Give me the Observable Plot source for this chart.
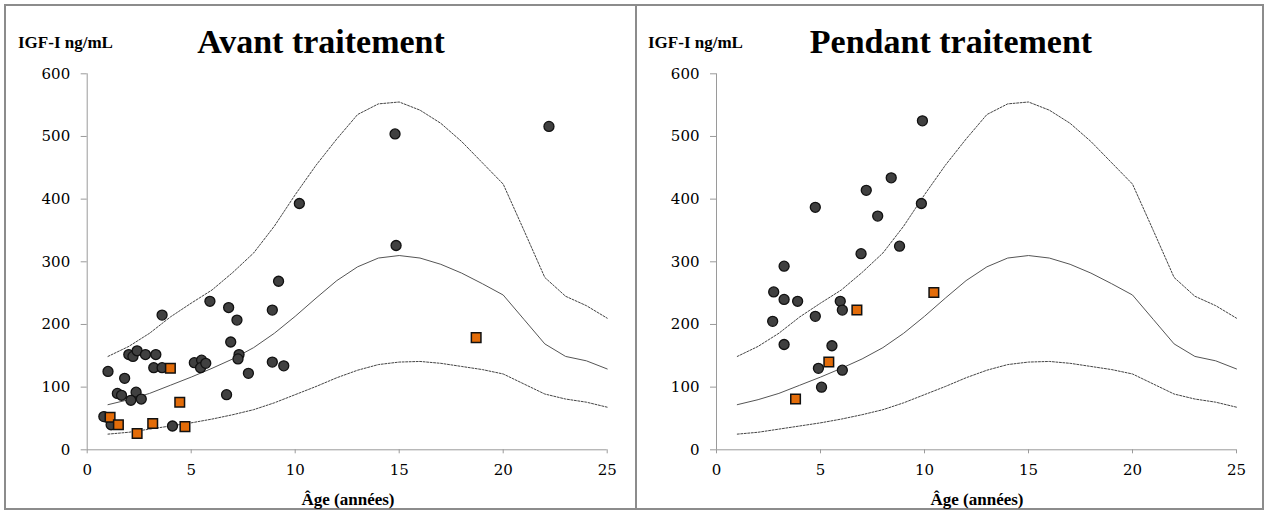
<!DOCTYPE html>
<html><head><meta charset="utf-8">
<script src="https://cdn.jsdelivr.net/npm/d3@7"></script>
<script src="https://cdn.jsdelivr.net/npm/@observablehq/plot@0.6"></script>
<style>
body{margin:0;background:#fff;width:1267px;height:510px;overflow:hidden;position:relative;}
.panel{position:absolute;top:4px;height:506px;box-sizing:border-box;border:2px solid #8c8c8c;background:#fff;}
.chart{position:absolute;top:6px;}
.ylab{position:absolute;top:33px;font:bold 17px "Liberation Serif",serif;color:#000;white-space:nowrap;}
.title{position:absolute;top:23px;font:bold 34px "Liberation Serif",serif;color:#000;white-space:nowrap;transform:translateX(-50%);}
.xlab{position:absolute;top:490px;font:bold 17px "Liberation Serif",serif;color:#000;white-space:nowrap;transform:translateX(-50%);}
</style></head>
<body>
<div class="panel" style="left:4px;width:633px;"></div>
<div class="panel" style="left:635px;width:629px;"></div>
<div id="c1" class="chart" style="left:6px"></div>
<div id="c2" class="chart" style="left:637px"></div>
<div class="ylab" style="left:18px">IGF-I ng/mL</div>
<div class="ylab" style="left:648px">IGF-I ng/mL</div>
<div class="title" style="left:321px">Avant traitement</div>
<div class="title" style="left:951px">Pendant traitement</div>
<div class="xlab" style="left:348px">Âge (années)</div>
<div class="xlab" style="left:977px">Âge (années)</div>
<script>
// Reference curves (age in years)
const refAges   = [1,2,3,4,5,6,7,8,9,10,11,12,13,14,15,16,17,18,19,20,21,22,23,24,25];
const refUpper  = [149,165,186,212,234,255,283,314,357,407,454,496,535,552,555,542,521,492,458,424,350,275,245,230,210];
const refMedian = [72,80,90,103,116,130,145,163,186,213,242,270,292,306,310,306,296,282,265,247,208,169,149,142,129];
const refLower  = [25,28,33,38,43,49,56,64,75,88,101,115,127,136,140,141,138,133,128,121,105,89,81,76,68];

// Avant traitement
const avantCircleAge = [3.6,5.9,6.8,7.2,8.9,9.2,6.9,2.0,2.2,2.4,2.8,3.3,3.2,3.6,1.0,1.8,1.45,1.65,2.35,2.1,2.6,0.8,1.15,4.1,5.15,5.5,5.45,5.7,7.3,7.25,7.75,6.7,8.9,9.45,10.2,14.8,14.85,22.2];
const avantCircleVal = [215,237,227,207,223,269,172,152,149,158,152,152,131,131,125,114,90,87,92,79,81,53,40,38,139,143,131,138,152,145,122,88,140,134,393,504,326,516];
const avantSquareAge = [1.1,1.5,2.4,3.15,4.0,4.45,4.7,18.7];
const avantSquareVal = [52,40,26,42,130,76,37,179];

// Pendant traitement
const pendantCircleAge = [9.9,8.4,7.2,4.75,7.75,9.85,8.8,6.95,3.25,2.75,3.25,3.9,5.95,6.05,4.75,2.7,3.25,5.55,4.9,6.05,5.05];
const pendantCircleVal = [525,434,414,387,373,393,325,313,293,252,240,237,237,223,213,205,168,166,130,127,100];
const pendantSquareAge = [10.45,6.75,5.4,3.8];
const pendantSquareVal = [251,223,140,81];

const xTicks = [0,5,10,15,20,25];
const yTicks = [0,100,200,300,400,500,600];

const refTable = refAges.map((a,i)=>({age:a, upper:refUpper[i], median:refMedian[i], lower:refLower[i]}));
const toPts = (ages, vals) => ages.map((a,i)=>({age:a, val:vals[i]}));

function panel(circles, squares, mL, mR) {
  return Plot.plot({
    width: mL + 520 + mR, height: 502,
    marginLeft: mL, marginRight: mR, marginTop: 67.3, marginBottom: 58.7,
    style: {fontFamily: "DejaVu Serif", fontSize: "15px", color: "#000", background: "transparent", overflow: "visible"},
    x: {domain: [0,25], ticks: xTicks},
    y: {domain: [0,600], ticks: yTicks},
    marks: [
      Plot.ruleY([0], {x1: 0, x2: 25, stroke: "#9a9a9a"}),
      Plot.ruleX([0], {y1: 0, y2: 600, stroke: "#9a9a9a"}),
      Plot.axisX({ticks: xTicks, tickSize: 4, tickPadding: 11, stroke: "#9a9a9a", fill: "#000", label: null, tickFormat: d => d}),
      Plot.axisY({ticks: yTicks, tickSize: 6, tickPadding: 11, stroke: "#9a9a9a", fill: "#000", label: null, tickFormat: d => d}),
      Plot.line(refTable, {x: "age", y: "upper", stroke: "#444", strokeWidth: 1, strokeDasharray: "2,1.5"}),
      Plot.line(refTable, {x: "age", y: "median", stroke: "#555", strokeWidth: 1}),
      Plot.line(refTable, {x: "age", y: "lower", stroke: "#444", strokeWidth: 1, strokeDasharray: "2,1.5"}),
      Plot.dot(circles, {x: "age", y: "val", r: 5, fill: "#404040", stroke: "#111", strokeWidth: 1.3}),
      Plot.dot(squares, {x: "age", y: "val", symbol: "square", r: 5.4, fill: "#E36C09", stroke: "#111", strokeWidth: 1.5})
    ]
  });
}

document.getElementById("c1").append(panel(toPts(avantCircleAge, avantCircleVal), toPts(avantSquareAge, avantSquareVal), 80.7, 27.3));
document.getElementById("c2").append(panel(toPts(pendantCircleAge, pendantCircleVal), toPts(pendantSquareAge, pendantSquareVal), 79, 26));
</script>
</body></html>
